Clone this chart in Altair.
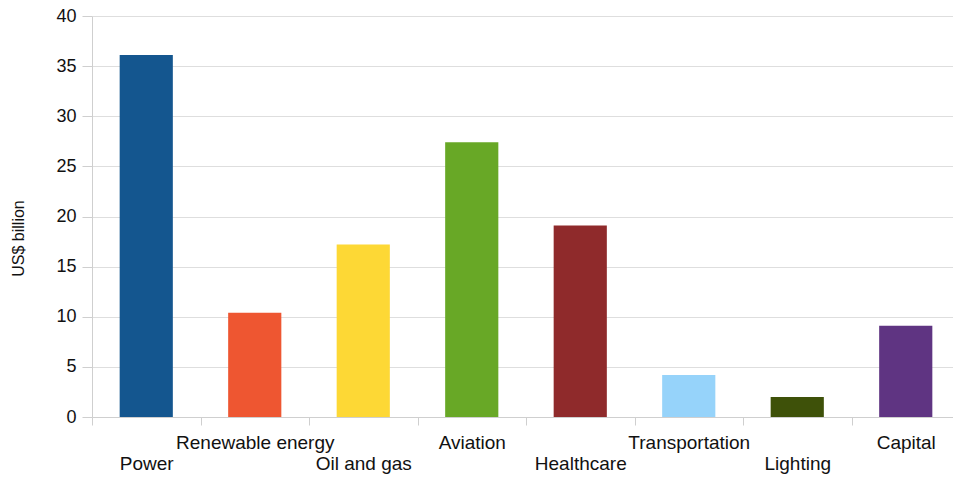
import json
import altair as alt
import pandas as pd

categories = ["Power", "Renewable energy", "Oil and gas", "Aviation",
              "Healthcare", "Transportation", "Lighting", "Capital"]
values = [36.1, 10.4, 17.2, 27.4, 19.1, 4.2, 2.0, 9.1]
colors = ["#14568F", "#EE5631", "#FDD835", "#68A826",
          "#8F2A2B", "#96D3FA", "#3E5109", "#5F3482"]
y_ticks = [0, 5, 10, 15, 20, 25, 30, 35, 40]

df = pd.DataFrame({"category": categories, "value": values})

label_expr = ("indexof(%s, datum.value) %% 2 == 0 ? [' ', datum.value] : datum.value"
              % json.dumps(categories))

FONT = "Liberation Sans"
GRAY = "#cfcfcf"
TXT = "#111111"

chart = alt.Chart(df).mark_bar(width=alt.RelativeBandSize(0.49)).encode(
    x=alt.X("category:N", sort=categories,
            scale=alt.Scale(range=[0, 868], paddingInner=0, paddingOuter=0),
            axis=alt.Axis(title=None, labelAngle=0, tickBand="extent",
                          labelExpr=label_expr, labelFont=FONT, labelFontSize=19,
                          labelLineHeight=21, labelPadding=8, labelBaseline="top",
                          labelColor=TXT, labelOverlap=False, labelBound=False,
                          tickSize=8, tickColor=GRAY, domainColor=GRAY, grid=False)),
    y=alt.Y("value:Q", scale=alt.Scale(domain=[0, 40], nice=False),
            axis=alt.Axis(values=y_ticks, title="US$ billion", titleFont=FONT,
                          titleFontSize=16, titleFontWeight="normal", titleColor=TXT,
                          titleAngle=-90, titleX=-74, titleY=222, titleAlign="center",
                          titleBaseline="middle",
                          labelFont=FONT, labelFontSize=18, labelColor=TXT,
                          labelPadding=6, tickSize=10, tickColor=GRAY, domainColor=GRAY,
                          gridColor="#dedede", gridWidth=1)),
    color=alt.Color("category:N", scale=alt.Scale(domain=categories, range=colors),
                    legend=None),
).properties(
    width=861, height=401,
    autosize=alt.AutoSizeParams(type="none"),
    padding={"left": 92, "top": 16, "right": 0, "bottom": 63},
).configure_view(stroke=None)

chart.save("out.html", embed_options={"renderer": "svg", "actions": False})
